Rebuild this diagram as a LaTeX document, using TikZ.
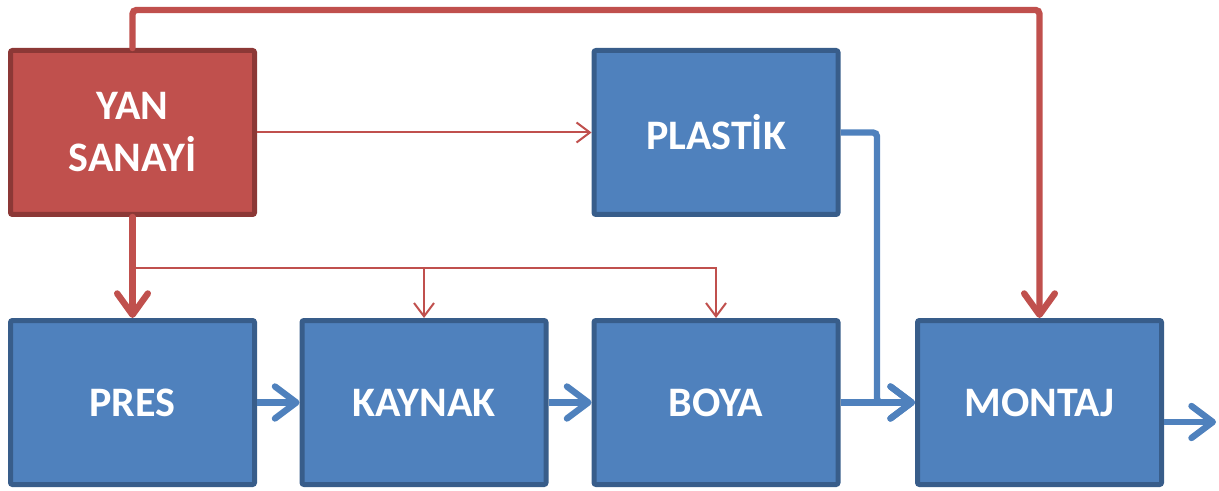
\documentclass[tikz,border=0pt]{standalone}
\usepackage{fontspec}
\setmainfont{Carlito}
\usetikzlibrary{arrows.meta}
\definecolor{redfill}{HTML}{C0504D}
\definecolor{rededge}{HTML}{8C3836}
\definecolor{bluefill}{HTML}{4F81BD}
\definecolor{blueedge}{HTML}{385D8A}
\tikzset{
  box/.style={draw, line width=3.75pt, rounded corners=1.5pt,
    minimum width=183pt, minimum height=123pt, inner sep=0pt,
    text=white, align=center, font=\bfseries\fontsize{31.5}{39}\selectfont},
  redbox/.style={box, fill=redfill, draw=rededge},
  bluebox/.style={box, fill=bluefill, draw=blueedge},
  bigred/.style={draw=redfill, line width=4.8pt, line cap=round,
    -{Straight Barb[round, length=16pt, width=23pt]}},
  thinred/.style={draw=redfill, line width=1.5pt,
    -{Straight Barb[length=10pt, width=15pt]}},
  bigblue/.style={draw=bluefill, line width=4.8pt,
    -{Straight Barb[round, length=16pt, width=24pt]}}
}
\begin{document}
\begin{tikzpicture}[x=0.75pt, y=-0.75pt]
\useasboundingbox (0,0) rectangle (1219,491);

% process boxes
\node[redbox]  (yan)     at (132.5,132.5) {YAN\\SANAYİ};
\node[bluebox] (plastik) at (716,132.5)   {PLASTİK};
\node[bluebox] (pres)    at (132.5,402.5) {PRES};
\node[bluebox] (kaynak)  at (424,402.5)   {KAYNAK};
\node[bluebox] (boya)    at (716,402.5)   {BOYA};
\node[bluebox] (montaj)  at (1039.5,402.5){MONTAJ};

% helper points for the routed lines
\coordinate (top)   at (132.5,10);
\coordinate (split) at (132.5,268);
\coordinate (bend)  at (877,402.5);
\coordinate (out)   at (1216,422);

% supplier flows
\draw[bigred, rounded corners=3pt] (yan.north) -- (top) -| (montaj.north);
\draw[bigred] (yan.south) -- (pres.north);
\draw[thinred] (yan.east) -- (plastik.west);
\draw[thinred] (split) -| (boya.north);
\draw[thinred] (split -| kaynak.north) -- (kaynak.north);

% production line
\draw[bigblue] (pres.east) -- (kaynak.west);
\draw[bigblue] (kaynak.east) -- (boya.west);
\draw[bigblue] (boya.east) -- (montaj.west);
\draw[bigblue, rounded corners=3pt] (plastik.east) -| (bend) -- (montaj.west);
\draw[bigblue] (montaj.east |- out) -- (out);
\end{tikzpicture}
\end{document}
